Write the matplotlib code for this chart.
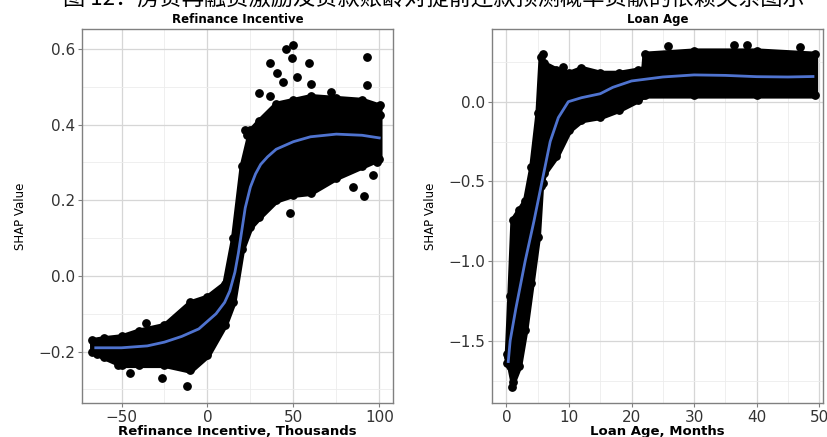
import numpy as np
import matplotlib
matplotlib.use('Agg')
import matplotlib.pyplot as plt
from matplotlib.ticker import MultipleLocator

plt.rcParams['font.family'] = ['DejaVu Sans', 'Noto Sans CJK SC']

# ---- Refinance Incentive panel ----
ri_x     = [-67, -60, -50, -40, -25, -10, 0, 10, 15, 20, 25, 30, 40, 50, 60, 75, 90, 100]
ri_upper = [-0.17, -0.165, -0.16, -0.145, -0.13, -0.07, -0.055, -0.02, 0.10, 0.29, 0.385, 0.41, 0.455, 0.465, 0.475, 0.47, 0.465, 0.45]
ri_lower = [-0.20, -0.215, -0.235, -0.235, -0.235, -0.25, -0.21, -0.13, -0.07, 0.07, 0.13, 0.155, 0.20, 0.215, 0.22, 0.26, 0.29, 0.31]
ri_out_x = [50, 46, 49, 93, 36.5, 59, 40.5, 44, 52, 60, 93, 30, 36.5, 72, 100.5, 100.5, 48, 91, 98.5, 96.5, 94.5, 85,
            -12, -26.5, -45, -52, -64.5, -35.5, 23, 22, -66]
ri_out_y = [0.61, 0.60, 0.577, 0.58, 0.564, 0.564, 0.536, 0.514, 0.525, 0.507, 0.505, 0.485, 0.476, 0.487, 0.452, 0.425,
            0.167, 0.211, 0.30, 0.267, 0.315, 0.236, -0.291, -0.27, -0.257, -0.235, -0.207, -0.125, 0.373, 0.385, -0.178]
ri_fit_x = [-65, -50, -35, -25, -15, -5, 0, 5, 10, 13, 16, 18, 20, 22, 25, 28, 31, 35, 40, 50, 60, 75, 90, 100]
ri_fit_y = [-0.19, -0.19, -0.185, -0.175, -0.16, -0.14, -0.12, -0.10, -0.07, -0.04, 0.01, 0.06, 0.12, 0.18, 0.235, 0.27, 0.295, 0.315, 0.335, 0.355, 0.368, 0.375, 0.372, 0.365]

# ---- Loan Age panel ----
la_x     = [0.1, 0.5, 1, 2, 3, 4, 5, 5.5, 6, 8, 10, 12, 15, 18, 21, 21.9, 22.1, 30, 40, 49.3]
la_upper = [-1.58, -1.22, -0.74, -0.68, -0.62, -0.41, -0.07, 0.28, 0.24, 0.20, 0.18, 0.21, 0.18, 0.18, 0.20, 0.20, 0.30, 0.32, 0.32, 0.30]
la_lower = [-1.64, -1.66, -1.76, -1.66, -1.43, -1.14, -0.85, -0.53, -0.45, -0.34, -0.18, -0.115, -0.095, -0.05, 0.01, 0.04, 0.04, 0.04, 0.04, 0.04]
la_out_x = [25.8, 36.3, 38.5, 46.9, 0.9, 5.9, 5.8, 9, 0.2]
la_out_y = [0.35, 0.356, 0.356, 0.34, -1.79, -0.51, 0.30, 0.22, -1.60]
la_fit_x = [0.3, 0.6, 1.5, 3, 4.4, 5.7, 7, 8.3, 9.9, 12, 15, 17, 20, 25, 30, 35, 40, 45, 49]
la_fit_y = [-1.63, -1.5, -1.3, -1.0, -0.75, -0.5, -0.25, -0.1, 0.0, 0.025, 0.05, 0.09, 0.13, 0.155, 0.168, 0.165, 0.157, 0.155, 0.158]

line_color = '#4f73cf'


def draw_panel(ax, x, upper, lower, ox, oy, fx, fy, title, xlabel):
    ax.fill_between(x, lower, upper, color='black', lw=4, edgecolor='black', zorder=2)
    ax.scatter(x + x, upper + lower, s=28, color='black', zorder=2)
    ax.scatter(ox, oy, s=28, color='black', zorder=2)
    ax.plot(fx, fy, color=line_color, lw=2, zorder=3)

    ax.set_title(title, fontsize=8.5, fontweight='bold', pad=4)
    ax.set_xlabel(xlabel, fontsize=9.5, fontweight='bold', labelpad=0)
    ax.set_ylabel('SHAP Value', fontsize=8.5, family='Liberation Sans Narrow', labelpad=8)

    ax.grid(which='major', color='#d6d6d6', lw=0.9, zorder=0)
    ax.grid(which='minor', color='#ececec', lw=0.6, zorder=0)
    ax.set_axisbelow(True)
    for sp in ax.spines.values():
        sp.set_color('#808080')
        sp.set_linewidth(1.0)
    ax.tick_params(which='major', length=3, color='#808080', labelsize=11, labelcolor='#333333', pad=2)
    ax.tick_params(which='minor', length=0)


fig = plt.figure(figsize=(8.27, 4.37), dpi=100)
ax1 = fig.add_axes([82 / 827, 1 - 403 / 437, 311 / 827, 374 / 437])
ax2 = fig.add_axes([492 / 827, 1 - 403 / 437, 331 / 827, 374 / 437])

draw_panel(ax1, ri_x, ri_upper, ri_lower, ri_out_x, ri_out_y, ri_fit_x, ri_fit_y,
           'Refinance Incentive', 'Refinance Incentive, Thousands')
ax1.set_xlim(-73, 108)
ax1.set_ylim(-0.336, 0.653)
ax1.xaxis.set_major_locator(MultipleLocator(50))
ax1.xaxis.set_minor_locator(MultipleLocator(25))
ax1.yaxis.set_minor_locator(MultipleLocator(0.1))
ax1.set_yticks([-0.2, 0.0, 0.2, 0.4, 0.6])
ax1.set_yticklabels(['\u22120.2', '0.0', '0.2', '0.4', '0.6'])

draw_panel(ax2, la_x, la_upper, la_lower, la_out_x, la_out_y, la_fit_x, la_fit_y,
           'Loan Age', 'Loan Age, Months')
ax2.set_xlim(-2.3, 50.6)
ax2.set_ylim(-1.89, 0.456)
ax2.xaxis.set_major_locator(MultipleLocator(10))
ax2.xaxis.set_minor_locator(MultipleLocator(5))
ax2.set_yticks([-1.5, -1.0, -0.5, 0.0])
ax2.set_yticklabels(['\u22121.5', '\u22121.0', '\u22120.5', '0.0'])
ax2.yaxis.set_minor_locator(MultipleLocator(0.25))

# caption at the very top, cut off by the image edge as in the original
fig.text(63 / 827, 1 - 6 / 437, '图 12：房贷再融资激励及贷款账龄对提前还款预测概率贡献的依赖关系图示',
         fontsize=16, ha='left', va='baseline', family=['Noto Sans CJK SC', 'DejaVu Sans'])

fig.savefig('out.png', dpi=100)
